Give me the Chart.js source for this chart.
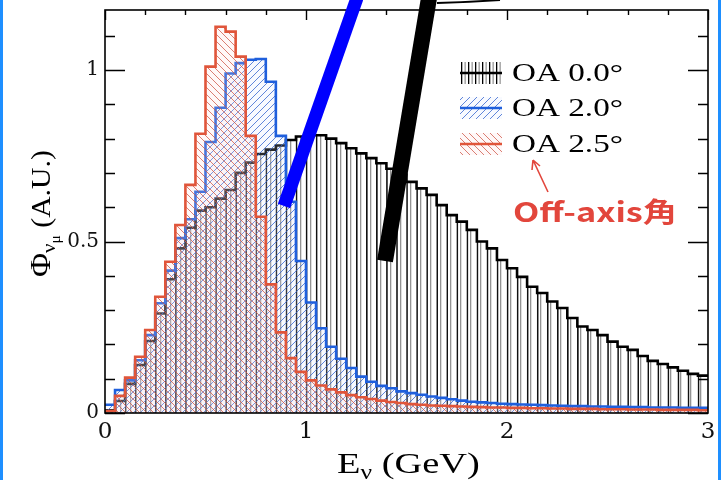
<!DOCTYPE html>
<html>
<head>
<meta charset="utf-8">
<script src="https://cdn.jsdelivr.net/npm/chart.js@4.4.0/dist/chart.umd.min.js"></script>
<style>
	html, body { margin:0; padding:0; background:#fff; overflow:hidden; }
	#c { display:block; }
</style>
</head>
<body>
<canvas id="c" width="721" height="480"></canvas>
<script>
	// histogram bins: 0.05 GeV wide, 0 - 3 GeV
	var binWidth	=	0.05;
	var energyMin	=	0;
	var energyMax	=	3;
	var fluxMax		=	1.175;

	var legendLabels	=	["OA 0.0°", "OA 2.0°", "OA 2.5°"];

	// OA 0.0 deg (black)
	var fluxOA00 = [0.008, 0.035, 0.085, 0.14, 0.21, 0.29, 0.39, 0.48, 0.54, 0.59,
		0.60, 0.625, 0.65, 0.70, 0.73, 0.755, 0.768, 0.78, 0.796, 0.806,
		0.81, 0.81, 0.80, 0.787, 0.772, 0.757, 0.743, 0.728, 0.712, 0.695,
		0.674, 0.655, 0.636, 0.606, 0.577, 0.558, 0.534, 0.50, 0.48, 0.446,
		0.422, 0.397, 0.368, 0.35, 0.325, 0.306, 0.277, 0.252, 0.242, 0.227,
		0.208, 0.193, 0.184, 0.166, 0.152, 0.143, 0.133, 0.123, 0.114, 0.109];

	// OA 2.0 deg (blue)
	var fluxOA20 = [0.024, 0.067, 0.095, 0.154, 0.227, 0.32, 0.415, 0.51, 0.565, 0.645,
		0.79, 0.89, 0.99, 1.02, 1.03, 1.032, 0.966, 0.808, 0.616, 0.443,
		0.322, 0.247, 0.193, 0.158, 0.131, 0.106, 0.091, 0.079, 0.072, 0.063,
		0.058, 0.053, 0.048, 0.044, 0.040, 0.036, 0.033, 0.031, 0.029, 0.027,
		0.026, 0.025, 0.024, 0.023, 0.022, 0.021, 0.020, 0.020, 0.019, 0.019,
		0.018, 0.018, 0.017, 0.017, 0.016, 0.016, 0.016, 0.015, 0.015, 0.015];

	// OA 2.5 deg (red)
	var fluxOA25 = [0.006, 0.05, 0.103, 0.164, 0.242, 0.339, 0.441, 0.548, 0.665, 0.814,
		1.01, 1.126, 1.112, 1.039, 0.808, 0.572, 0.375, 0.235, 0.16, 0.12,
		0.095, 0.08, 0.069, 0.06, 0.052, 0.046, 0.041, 0.036, 0.032, 0.029,
		0.026, 0.024, 0.022, 0.021, 0.020, 0.019, 0.018, 0.017, 0.016, 0.016,
		0.015, 0.015, 0.014, 0.014, 0.013, 0.013, 0.012, 0.012, 0.012, 0.011,
		0.011, 0.011, 0.010, 0.010, 0.010, 0.009, 0.009, 0.009, 0.009, 0.008];

	var serif	=	'"Liberation Serif", "Times New Roman", serif';

	function $each(arr, fn){ for(var i=0;i<arr.length;i++){ fn(arr[i], i); } }

	// step outline: one point per bin edge, last edge repeats last bin
	function edgePoints(vals){
		var pts	=	[];
		$each(vals, function(v, i){ pts.push({x: energyMin + i*binWidth, y: v}); });
		pts.push({x: energyMin + vals.length*binWidth, y: vals[vals.length-1]});
		return pts;
	}
	function centerPoints(vals){
		var pts	=	[];
		$each(vals, function(v, i){ pts.push({x: energyMin + (i+0.5)*binWidth, y: v}); });
		return pts;
	}

	// hatch patterns
	function vertPattern(){
		var c = document.createElement('canvas'); c.width = 10; c.height = 4;
		var g = c.getContext('2d');
		g.fillStyle = 'rgba(120,120,120,0.8)'; g.fillRect(0,0,1.3,4);
		return g.createPattern(c, 'repeat');
	}
	function diagPattern(color, bg, forward){
		var s = 7;
		var c = document.createElement('canvas'); c.width = s; c.height = s;
		var g = c.getContext('2d');
		g.fillStyle = bg; g.fillRect(0,0,s,s);
		g.strokeStyle = color; g.lineWidth = 1;
		g.beginPath();
		if(forward){
			g.moveTo(0, s); g.lineTo(s, 0);
			g.moveTo(-1, 1); g.lineTo(1, -1);
			g.moveTo(s-1, s+1); g.lineTo(s+1, s-1);
		} else {
			g.moveTo(0, 0); g.lineTo(s, s);
			g.moveTo(-1, s-1); g.lineTo(1, s+1);
			g.moveTo(s-1, -1); g.lineTo(s+1, 1);
		}
		g.stroke();
		return g.createPattern(c, 'repeat');
	}

	var blueLine	=	'#1f5fdc';
	var redLine		=	'#e0553a';
	var blueHatch	=	diagPattern('rgba(45,95,205,0.75)', 'rgba(215,225,255,0.18)', true);
	var redHatch	=	diagPattern('rgba(205,85,70,0.75)', 'rgba(255,215,215,0.18)', false);
	var blackHatch	=	vertPattern();

	// text helper, stretched horizontally
	function drawRuns(ctx, runs, x, y, sx){
		var cx = x;
		$each(runs, function(r){
			ctx.save();
			ctx.font = r.size + 'px ' + (r.family || serif);
			ctx.translate(cx, y + (r.dy || 0));
			ctx.scale(sx, 1);
			ctx.fillText(r.t, 0, 0);
			cx += ctx.measureText(r.t).width * sx;
			ctx.restore();
		});
	}
	function fitText(ctx, text, x, y, w, font){
		ctx.save();
		ctx.font = font;
		var sx = w / ctx.measureText(text).width;
		ctx.translate(x, y); ctx.scale(sx, 1);
		ctx.fillText(text, 0, 0);
		ctx.restore();
	}

	// box frame and inward ticks
	var framePlugin = {
		id: 'frame',
		afterDatasetsDraw: function(chart){
			var ctx = chart.ctx, a = chart.chartArea;
			var xs = chart.scales.x, ys = chart.scales.y;
			ctx.save();
			ctx.strokeStyle = '#000';
			ctx.lineWidth = 1.6;
			ctx.strokeRect(a.left, a.top, a.right - a.left, a.bottom - a.top);
			ctx.lineWidth = 1.4;
			ctx.beginPath();
			$each(ys.ticks, function(t){
				var r = t.value*10;
				if(Math.abs(r - Math.round(r)) > 1e-6) return;
				var major = Math.abs(t.value*2 - Math.round(t.value*2)) < 1e-6;
				var len = major ? 20 : 10;
				var py = Math.round(ys.getPixelForValue(t.value)) + 0.5;
				ctx.moveTo(a.left, py); ctx.lineTo(a.left + len, py);
				ctx.moveTo(a.right, py); ctx.lineTo(a.right - len, py);
			});
			$each(xs.ticks, function(t){
				var major = Math.abs(t.value - Math.round(t.value)) < 1e-6;
				var len = major ? 10 : 5;
				var px = Math.round(xs.getPixelForValue(t.value)) + 0.5;
				ctx.moveTo(px, a.top); ctx.lineTo(px, a.top + len);
			});
			ctx.stroke();
			ctx.restore();
		}
	};

	// legend, titles and the drawn-on notes
	var notesPlugin = {
		id: 'notes',
		afterDraw: function(chart){
			var ctx = chart.ctx;
			ctx.save();
			ctx.fillStyle = '#000';
			ctx.textBaseline = 'alphabetic';

			// x title
			drawRuns(ctx, [{t:'E', size:30}, {t:'ν', size:20, dy:6}, {t:' (GeV)', size:30}], 337, 473, 1.28);

			// y title, rotated
			ctx.save();
			ctx.translate(50, 277);
			ctx.rotate(-Math.PI/2);
			drawRuns(ctx, [{t:'Φ', size:30}, {t:'ν', size:19, dy:5}, {t:'μ', size:14, dy:10}, {t:' (A.U.)', size:27}], 0, 0, 1.1);
			ctx.restore();

			// legend swatches
			var sw = [
				{y:62, fill:null, line:'#000'},
				{y:97, fill:blueHatch, line:blueLine},
				{y:133, fill:redHatch, line:redLine}
			];
			$each(sw, function(s, i){
				ctx.save();
				ctx.beginPath(); ctx.rect(460, s.y, 42, 22); ctx.clip();
				if(s.fill){
					ctx.fillStyle = s.fill; ctx.fillRect(460, s.y, 42, 22);
				} else {
					for(var k=0;k<12;k++){
						ctx.fillStyle = (k%2==0) ? '#000' : '#999';
						ctx.fillRect(461 + k*3.5, s.y, 1.3, 22);
					}
				}
				ctx.restore();
				ctx.strokeStyle = s.line; ctx.lineWidth = 2.5;
				ctx.beginPath(); ctx.moveTo(460, s.y + 11); ctx.lineTo(502, s.y + 11); ctx.stroke();
				ctx.fillStyle = '#000';
				fitText(ctx, legendLabels[i], 512, s.y + 19, 111, '26px ' + serif);
			});

			// red note with arrow
			ctx.fillStyle = '#e2463c';
			fitText(ctx, 'Off-axis角', 513, 222, 164, '600 27px "Noto Sans CJK JP", "Noto Sans", sans-serif');
			ctx.strokeStyle = '#e2463c'; ctx.lineWidth = 1.6;
			ctx.beginPath();
			ctx.moveTo(548, 192); ctx.lineTo(533, 160);
			ctx.moveTo(533, 160); ctx.lineTo(532, 170);
			ctx.moveTo(533, 160); ctx.lineTo(540, 166);
			ctx.stroke();

			// thick pointer strokes from the top
			ctx.lineCap = 'butt';
			ctx.strokeStyle = '#0000ff'; ctx.lineWidth = 13;
			ctx.beginPath(); ctx.moveTo(357, -2); ctx.lineTo(284, 206); ctx.stroke();
			ctx.strokeStyle = '#000'; ctx.lineWidth = 16;
			ctx.beginPath(); ctx.moveTo(429, -2); ctx.lineTo(385, 261); ctx.stroke();
			ctx.lineWidth = 2;
			ctx.beginPath(); ctx.moveTo(437, 3); ctx.quadraticCurveTo(470, 2, 500, 0); ctx.stroke();

			// blue page edges
			ctx.fillStyle = '#1e8fff';
			ctx.fillRect(0, 0, 3, 480);
			ctx.fillRect(718, 0, 3, 480);
			ctx.restore();
		}
	};

	var ctx = document.getElementById('c').getContext('2d');
	var chart = new Chart(ctx, {
		type: 'line',
		data: {
			datasets: [
				{
					type: 'bar',
					label: legendLabels[0],
					data: centerPoints(fluxOA00),
					backgroundColor: blackHatch,
					borderColor: '#111',
					borderWidth: {left:1, right:0, top:0, bottom:0},
					borderSkipped: false,
					barPercentage: 1,
					categoryPercentage: 1,
					grouped: false,
					order: 4
				},
				{
					label: legendLabels[0],
					data: edgePoints(fluxOA00),
					stepped: 'before',
					borderColor: '#000',
					borderWidth: 2.6,
					pointRadius: 0,
					fill: false,
					order: 3
				},
				{
					label: legendLabels[1],
					data: edgePoints(fluxOA20),
					stepped: 'before',
					borderColor: blueLine,
					borderWidth: 2.6,
					backgroundColor: blueHatch,
					fill: 'origin',
					pointRadius: 0,
					order: 2
				},
				{
					label: legendLabels[2],
					data: edgePoints(fluxOA25),
					stepped: 'before',
					borderColor: redLine,
					borderWidth: 2.6,
					backgroundColor: redHatch,
					fill: 'origin',
					pointRadius: 0,
					order: 1
				}
			]
		},
		options: {
			responsive: false,
			animation: false,
			devicePixelRatio: 1,
			layout: { padding: {left:0, right:13, top:10, bottom:0} },
			plugins: { legend: {display:false}, tooltip: {enabled:false} },
			scales: {
				x: {
					type: 'linear',
					min: energyMin,
					max: energyMax,
					offset: false,
					grid: {display:false, drawTicks:false},
					border: {display:false},
					ticks: {
						stepSize: 0.2,
						autoSkip: false,
						maxRotation: 0,
						padding: 5,
						color: '#111',
						font: {family:'DejaVu Serif', size:23},
						callback: function(v){
							return Math.abs(v - Math.round(v)) < 1e-6 ? String(Math.round(v)) : '';
						}
					},
					afterFit: function(s){ s.height = 67; }
				},
				y: {
					min: 0,
					max: fluxMax,
					grid: {display:false, drawTicks:false},
					border: {display:false},
					ticks: {
						stepSize: 0.1,
						autoSkip: false,
						padding: 6,
						color: '#111',
						font: {family:'DejaVu Serif', size:20},
						callback: function(v){
							var h = v*2;
							return Math.abs(h - Math.round(h)) < 1e-6 ? String(Math.round(h)/2) : '';
						}
					},
					afterFit: function(s){ s.width = 105; s.paddingTop = 0; s.paddingBottom = 0; }
				}
			}
		},
		plugins: [framePlugin, notesPlugin]
	});
</script>
</body>
</html>
